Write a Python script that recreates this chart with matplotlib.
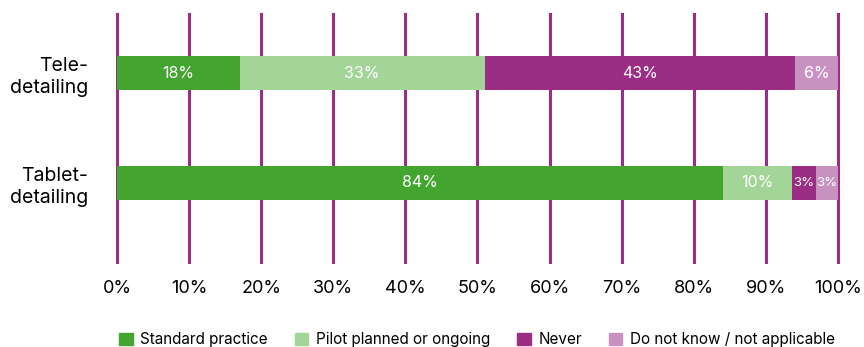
import numpy as np
import matplotlib.pyplot as plt
from matplotlib.patches import Patch

plt.rcParams['font.family'] = ['Inter', 'DejaVu Sans']

categories = ["Tablet-\ndetailing", "Tele-\ndetailing"]
series = ["Standard practice", "Pilot planned or ongoing", "Never", "Do not know / not applicable"]
# widths as drawn in the picture (percent)
values = [
    [84, 9.6, 3.4, 3],   # Tablet-detailing
    [17, 34, 43, 6],     # Tele-detailing
]
# printed labels
labels = [
    ["84%", "10%", "3%", "3%"],
    ["18%", "33%", "43%", "6%"],
]
colors = ["#43a52f", "#a2d597", "#9b2d82", "#c792c0"]
xticks = np.arange(0, 101, 10)
xticklabels = [f"{t}%" for t in xticks]

fig = plt.figure(figsize=(8.64, 3.47), dpi=100)
ax = fig.add_axes([117/864, 1-262/347, (838-117)/864, 248/347])

for x in xticks:
    ax.axvline(x, color="#9b2d86", lw=2.2, zorder=0, clip_on=False)

ypos = np.arange(len(categories))
for i, y in enumerate(ypos):
    left = 0
    for j, v in enumerate(values[i]):
        ax.barh(y, v, left=left, height=0.31, color=colors[j], zorder=2)
        fs = 11.5 if v > 5 else 9.5
        ax.text(left + v/2, y, labels[i][j], ha="center", va="center",
                color="white", fontsize=fs, zorder=3)
        left += v

ax.set_xlim(0, 100)
ax.set_ylim(-0.72, 1.54)
ax.set_yticks(ypos)
ax.set_yticklabels(categories, fontsize=14, ha="right", linespacing=1.3)
ax.set_xticks(xticks)
ax.set_xticklabels(xticklabels, fontsize=13)
ax.tick_params(axis="x", length=0, pad=13)
ax.tick_params(axis="y", length=0, pad=21)
for s in ax.spines.values():
    s.set_visible(False)

handles = [Patch(color=c, label=s) for c, s in zip(colors, series)]
fig.legend(handles=handles, loc="lower left", bbox_to_anchor=(105/864, -0.04),
           ncol=4, frameon=False, fontsize=11, handlelength=0.9, handleheight=0.9,
           handletextpad=0.5, columnspacing=1.75)

fig.savefig("out.png", dpi=100)
